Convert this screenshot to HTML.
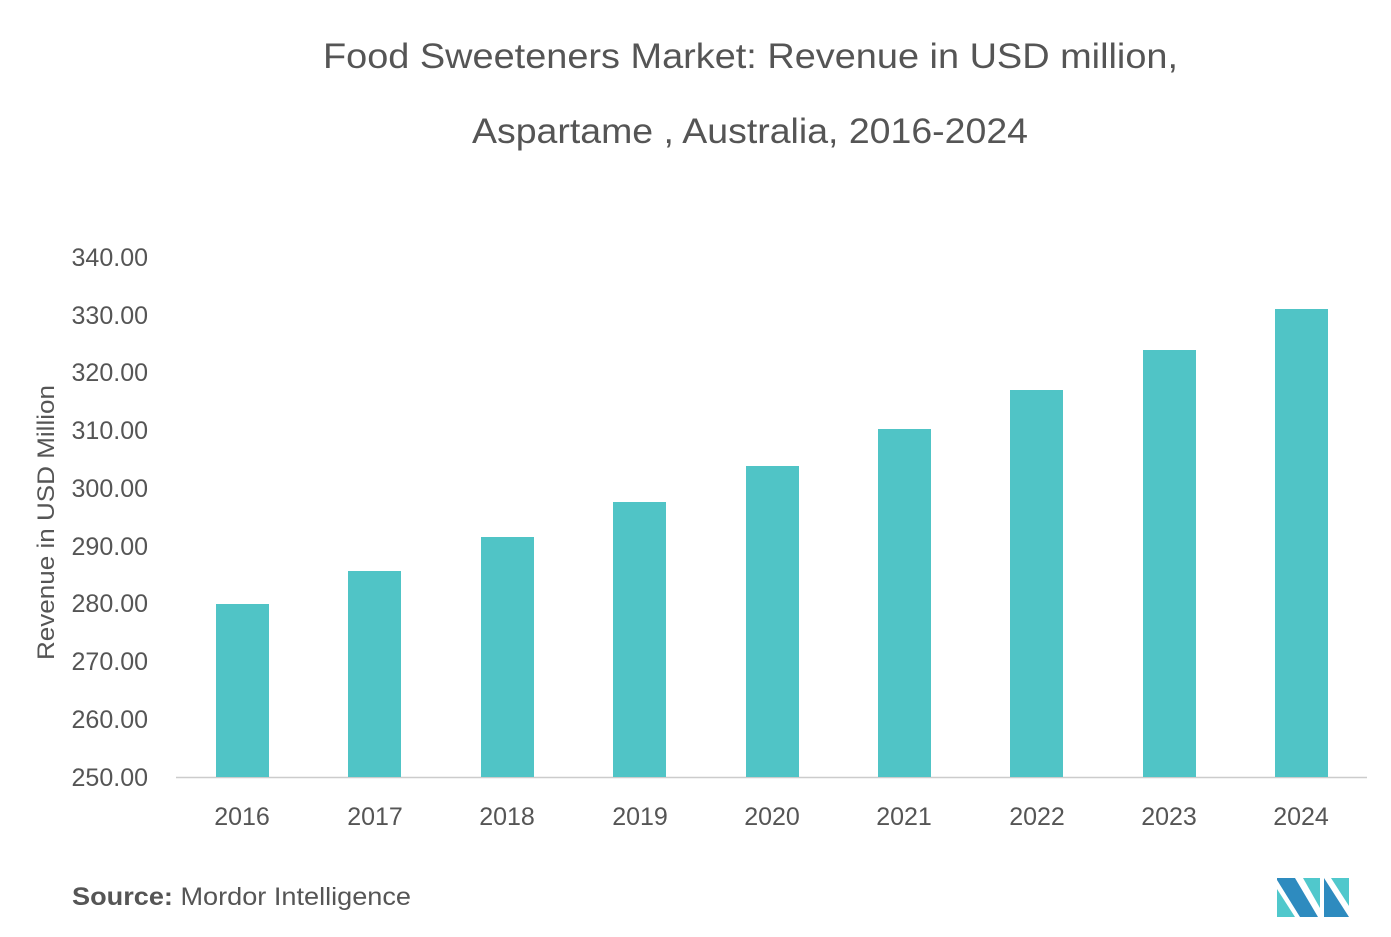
<!DOCTYPE html>
<html><head><meta charset="utf-8"><style>
body{margin:0;background:#fff;}
svg text{font-family:"Liberation Sans",sans-serif;}
</style></head><body>
<svg width="1391" height="932" xmlns="http://www.w3.org/2000/svg">
<text x="323" y="68" font-size="35" fill="#555" textLength="855" lengthAdjust="spacingAndGlyphs">Food Sweeteners Market: Revenue in USD million,</text>
<text x="472" y="143" font-size="35" fill="#555" textLength="556" lengthAdjust="spacingAndGlyphs">Aspartame , Australia, 2016-2024</text>
<g font-size="25" fill="#555" text-anchor="end">
<text x="148" y="266">340.00</text><text x="148" y="324">330.00</text><text x="148" y="381">320.00</text>
<text x="148" y="439">310.00</text><text x="148" y="497">300.00</text><text x="148" y="555">290.00</text>
<text x="148" y="612">280.00</text><text x="148" y="670">270.00</text><text x="148" y="728">260.00</text>
<text x="148" y="786">250.00</text></g>
<text transform="translate(54,660) rotate(-90)" font-size="24" fill="#555" textLength="275" lengthAdjust="spacingAndGlyphs">Revenue in USD Million</text>
<line x1="176" y1="777.5" x2="1367" y2="777.5" stroke="#ccc" stroke-width="1.5"/>
<g fill="#50c4c6">
<rect x="216" y="604" width="53" height="173"/>
<rect x="348" y="571" width="53" height="206"/>
<rect x="481" y="537" width="53" height="240"/>
<rect x="613" y="502" width="53" height="275"/>
<rect x="746" y="466" width="53" height="311"/>
<rect x="878" y="429" width="53" height="348"/>
<rect x="1010" y="390" width="53" height="387"/>
<rect x="1143" y="350" width="53" height="427"/>
<rect x="1275" y="309" width="53" height="468"/>
</g>
<g font-size="25" fill="#555" text-anchor="middle">
<text x="242" y="825">2016</text><text x="375" y="825">2017</text><text x="507" y="825">2018</text>
<text x="640" y="825">2019</text><text x="772" y="825">2020</text><text x="904" y="825">2021</text>
<text x="1037" y="825">2022</text><text x="1169" y="825">2023</text><text x="1301" y="825">2024</text></g>
<text x="72" y="905" font-size="25" fill="#555" textLength="339" lengthAdjust="spacingAndGlyphs"><tspan font-weight="bold">Source:</tspan> Mordor Intelligence</text>
<g>
<polygon points="1277,889 1277,917 1295,917" fill="#50c8cc"/>
<polygon points="1277,878 1295,878 1318,917 1300,917 1277,880" fill="#2e8bbf"/>
<polygon points="1303,878 1320,878 1320,908" fill="#50c8cc"/>
<polygon points="1324,878 1349,917 1324,917" fill="#2e8bbf"/>
<polygon points="1331,878 1349,878 1349,906" fill="#50c8cc"/>
</g>
</svg>
</body></html>
